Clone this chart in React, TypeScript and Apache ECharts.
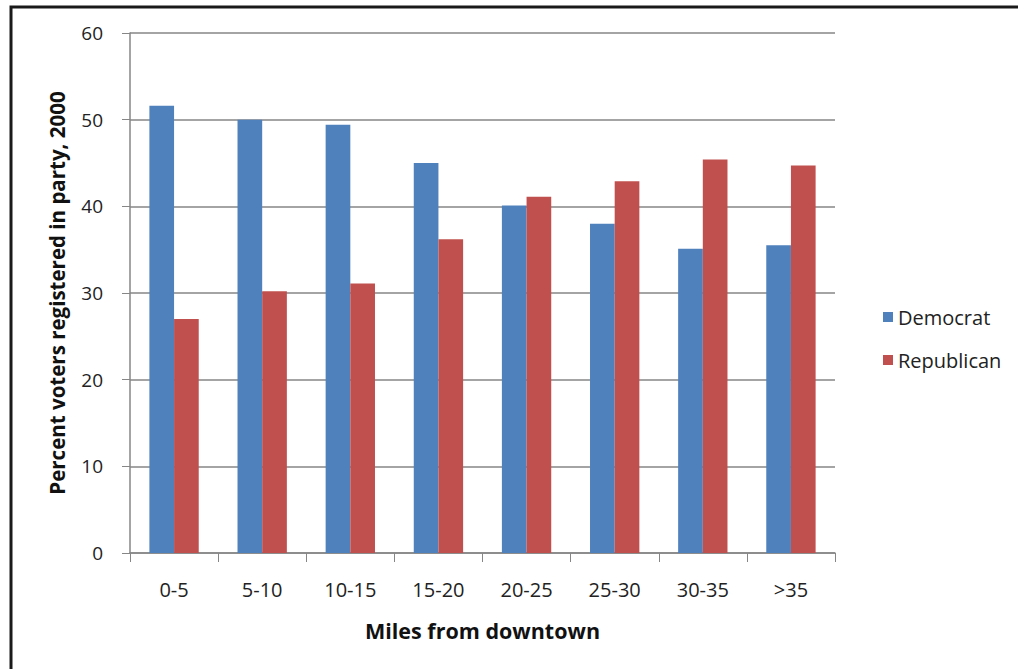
import React, { useEffect, useRef } from "react";
import * as echarts from "echarts";

const categories = ["0-5", "5-10", "10-15", "15-20", "20-25", "25-30", "30-35", ">35"];
const democrat = [51.6, 50.0, 49.4, 45.0, 40.1, 38.0, 35.1, 35.5];
const republican = [27.0, 30.2, 31.1, 36.2, 41.1, 42.9, 45.4, 44.7];
const yTicks = { min: 0, max: 60, interval: 10 };

const FONT = "'Open Sans', 'Noto Sans', sans-serif";

export default function App() {
  const ref = useRef<HTMLDivElement>(null);
  useEffect(() => {
    if (!ref.current) return;
    const chart = echarts.init(ref.current, null, { renderer: "svg" });
    chart.setOption({
      animation: false,
      backgroundColor: "#ffffff",
      textStyle: { fontFamily: FONT },
      graphic: [
        {
          type: "rect",
          shape: { x: 11, y: 7, width: 1100, height: 800 },
          style: { fill: "none", stroke: "#1a1a1a", lineWidth: 3 },
          silent: true,
          z: 100,
        },
      ],
      grid: { left: 130, right: 183, top: 33, bottom: 116, containLabel: false },
      legend: {
        orient: "vertical",
        left: 878,
        top: 302,
        itemGap: 23,
        itemWidth: 10,
        itemHeight: 10,
        itemTextGap: 6,
        icon: "rect",
        textStyle: { fontSize: 20, color: "#222", fontFamily: FONT },
        data: ["Democrat", "Republican"],
      },
      xAxis: {
        type: "category",
        data: categories,
        name: "Miles from downtown",
        nameLocation: "middle",
        nameGap: 66,
        nameTextStyle: { fontSize: 21.5, fontWeight: "bold", color: "#111", fontFamily: FONT },
        axisLine: { lineStyle: { color: "#868686", width: 1.5 } },
        axisTick: { show: true, length: 9, lineStyle: { color: "#868686" } },
        axisLabel: { fontSize: 20, color: "#222", margin: 26, fontFamily: FONT },
      },
      yAxis: {
        type: "value",
        min: yTicks.min,
        max: yTicks.max,
        interval: yTicks.interval,
        name: "Percent voters registered in party, 2000",
        nameLocation: "middle",
        nameGap: 63,
        nameTextStyle: { fontSize: 20.5, fontWeight: "bold", color: "#111", fontFamily: FONT },
        axisLine: { show: true, lineStyle: { color: "#868686", width: 1.5 } },
        axisTick: { show: true, length: 8, lineStyle: { color: "#868686" } },
        axisLabel: { fontSize: 19, color: "#222", margin: 27, fontFamily: FONT },
        splitLine: { show: true, lineStyle: { color: "#868686", width: 1.5 } },
      },
      series: [
        {
          name: "Democrat",
          type: "bar",
          data: democrat,
          itemStyle: { color: "#4F81BD" },
          barGap: "0%",
          barCategoryGap: "44%",
        },
        {
          name: "Republican",
          type: "bar",
          data: republican,
          itemStyle: { color: "#C0504D" },
          barGap: "0%",
          barCategoryGap: "44%",
        },
      ],
    });
    return () => chart.dispose();
  }, []);
  return (
    <div
      ref={ref}
      style={{ position: "fixed", left: 0, top: 0, width: 1018, height: 669 }}
    />
  );
}
